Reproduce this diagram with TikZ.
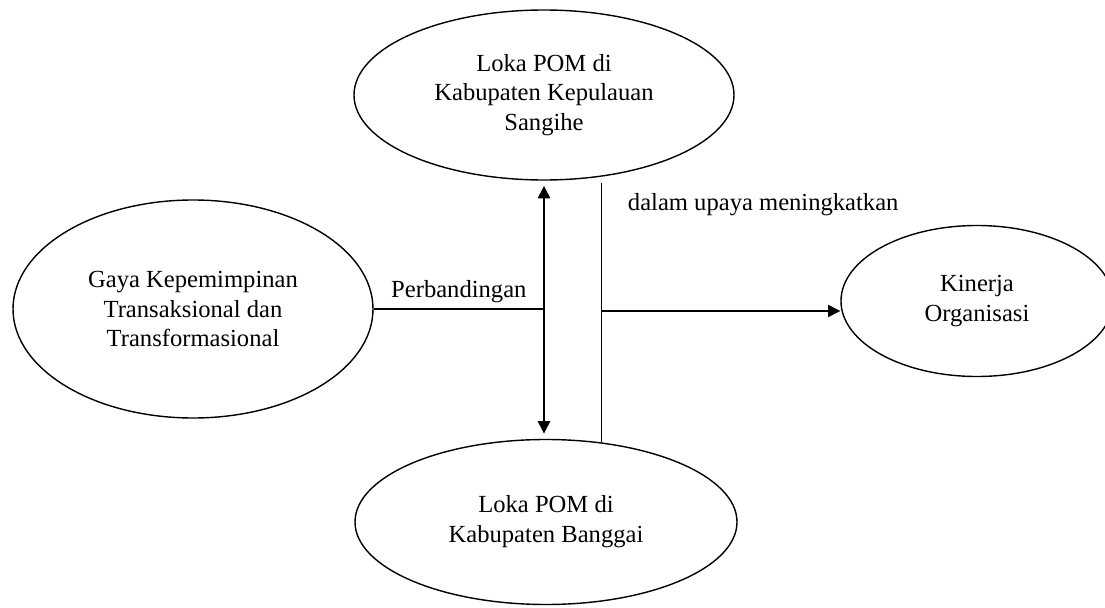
\documentclass[tikz,border=0pt]{standalone}
\usepackage{fontspec}
\setmainfont{Liberation Serif}
\usepackage{tikz}
\usetikzlibrary{arrows.meta,shapes.geometric,positioning}

\begin{document}
\begin{tikzpicture}[
  oval/.style={draw, ellipse, line width=0.8pt, inner sep=0pt, align=center, font=\fontsize{14}{17}\selectfont},
  lbl/.style={font=\fontsize{14}{17}\selectfont},
  conn/.style={line width=0.8pt},
  tip/.style={-{Triangle[length=7pt,width=7pt]}},
  bothtips/.style={{Triangle[length=7pt,width=7pt]}-{Triangle[length=7pt,width=7pt]}}
]
\useasboundingbox (0,0) rectangle (22.1,12.14);
\node[oval, minimum width=7.6cm, minimum height=3.4cm] (sangihe) at (10.88,10.24) {Loka POM di\\Kabupaten Kepulauan\\Sangihe};
\node[oval, minimum width=7.2cm, minimum height=4.36cm] (gaya) at (3.86,5.96) {Gaya Kepemimpinan\\Transaksional dan\\Transformasional};
\node[oval, minimum width=5.44cm, minimum height=3.02cm] (kinerja) at (19.54,6.12) {Kinerja\\Organisasi};
\node[oval, minimum width=7.64cm, minimum height=3.3cm] (banggai) at (10.92,1.70) {Loka POM di\\Kabupaten Banggai};

\coordinate (jkiri) at (gaya.east -| sangihe.south);
\coordinate (katas) at (banggai.55 |- 0,8.48);
\coordinate (kmid) at (banggai.55 |- 0,5.92);

\draw[conn, bothtips, shorten <=3pt, shorten >=3pt] (sangihe.south) -- (sangihe.south |- banggai.north);
\draw[conn] (gaya.east) -- node[lbl, above] (lbanding) {Perbandingan} (jkiri);
\draw[conn] (katas) -- (banggai.55);
\draw[conn, tip] (kmid) -- (kmid -| kinerja.west);
\node[lbl, below right=0.08cm and 0.4cm of katas] (lupaya) {dalam upaya meningkatkan};
\end{tikzpicture}
\end{document}
